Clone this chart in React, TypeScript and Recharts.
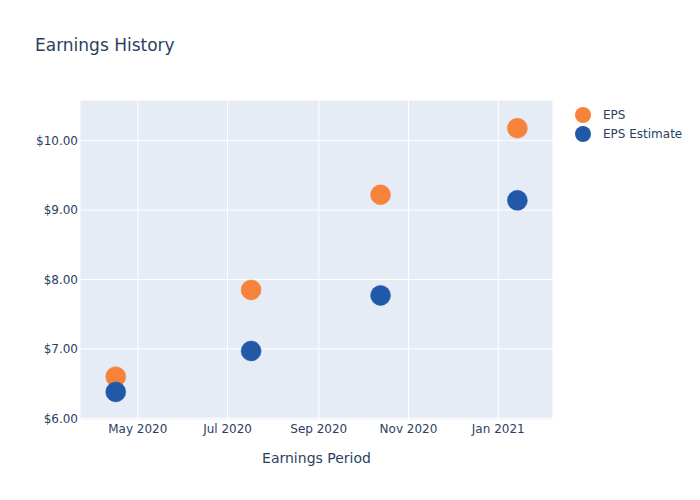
import React from 'react';
import { ScatterChart, Scatter, XAxis, YAxis, CartesianGrid, Label } from 'recharts';

const periods = ['2020-04-16', '2020-07-17', '2020-10-13', '2021-01-14'];
const epsActual = [6.6, 7.85, 9.22, 10.18];
const epsEstimate = [6.38, 6.97, 7.77, 9.14];

const xTicks = ['2020-05-01', '2020-07-01', '2020-09-01', '2020-11-01', '2021-01-01'];
const yTicks = [6, 7, 8, 9, 10];
const MONTHS = ['Jan', 'Feb', 'Mar', 'Apr', 'May', 'Jun', 'Jul', 'Aug', 'Sep', 'Oct', 'Nov', 'Dec'];

const ORANGE = '#f7823a';
const BLUE = '#2159a8';
const TEXT = '#2a3f5f';
const FONT = '"DejaVu Sans", verdana, arial, sans-serif';

const actualData = periods.map((p, i) => ({ x: Date.parse(p), y: epsActual[i] }));
const estimateData = periods.map((p, i) => ({ x: Date.parse(p), y: epsEstimate[i] }));

const dot = (color: string) => (props: any) => (
  <circle cx={props.cx} cy={props.cy} r={10} fill={color} stroke={color} strokeWidth={0.5} />
);

const formatMonth = (v: number) => {
  const d = new Date(v);
  return `${MONTHS[d.getUTCMonth()]} ${d.getUTCFullYear()}`;
};

const App: React.FC = () => {
  return (
    <div style={{ position: 'absolute', left: 0, top: 0, width: 700, height: 500, background: '#fff', fontFamily: FONT }}>
      <div style={{ position: 'absolute', left: 35, top: 35, fontSize: 17, color: TEXT }}>Earnings History</div>

      <div style={{ position: 'absolute', left: 575, top: 105, fontSize: 12, color: TEXT }}>
        {[['EPS', ORANGE], ['EPS Estimate', BLUE]].map(([name, color]) => (
          <div key={name} style={{ display: 'flex', alignItems: 'center', height: 19 }}>
            <span style={{ width: 16, height: 16, borderRadius: 8, background: color, display: 'inline-block' }} />
            <span style={{ marginLeft: 12 }}>{name}</span>
          </div>
        ))}
      </div>

      <ScatterChart width={700} height={500} margin={{ top: 100, right: 147, bottom: 50, left: 0 }}>
        <CartesianGrid fill="#e5ecf6" stroke="#ffffff" strokeWidth={1} />
        <XAxis
          type="number"
          dataKey="x"
          domain={[Date.UTC(2020, 2, 22, 17), Date.UTC(2021, 1, 7, 5)]}
          ticks={xTicks.map((t) => Date.parse(t))}
          tickFormatter={formatMonth}
          axisLine={false}
          tickLine={false}
          tickSize={0}
          tickMargin={4}
          height={30}
          tick={{ fill: TEXT, fontSize: 12, fontFamily: FONT }}
          allowDataOverflow
        >
          <Label value="Earnings Period" position="bottom" offset={3} style={{ fill: TEXT, fontSize: 14, fontFamily: FONT }} />
        </XAxis>
        <YAxis
          type="number"
          dataKey="y"
          domain={[5.975, 10.586]}
          ticks={yTicks}
          tickFormatter={(v: number) => `$${v.toFixed(2)}`}
          axisLine={false}
          tickLine={false}
          tickSize={0}
          tickMargin={2}
          width={80}
          tick={{ fill: TEXT, fontSize: 12, fontFamily: FONT }}
          allowDataOverflow
        />
        <Scatter name="EPS" data={actualData} fill={ORANGE} shape={dot(ORANGE)} isAnimationActive={false} />
        <Scatter name="EPS Estimate" data={estimateData} fill={BLUE} shape={dot(BLUE)} isAnimationActive={false} />
      </ScatterChart>
    </div>
  );
};

export default App;
